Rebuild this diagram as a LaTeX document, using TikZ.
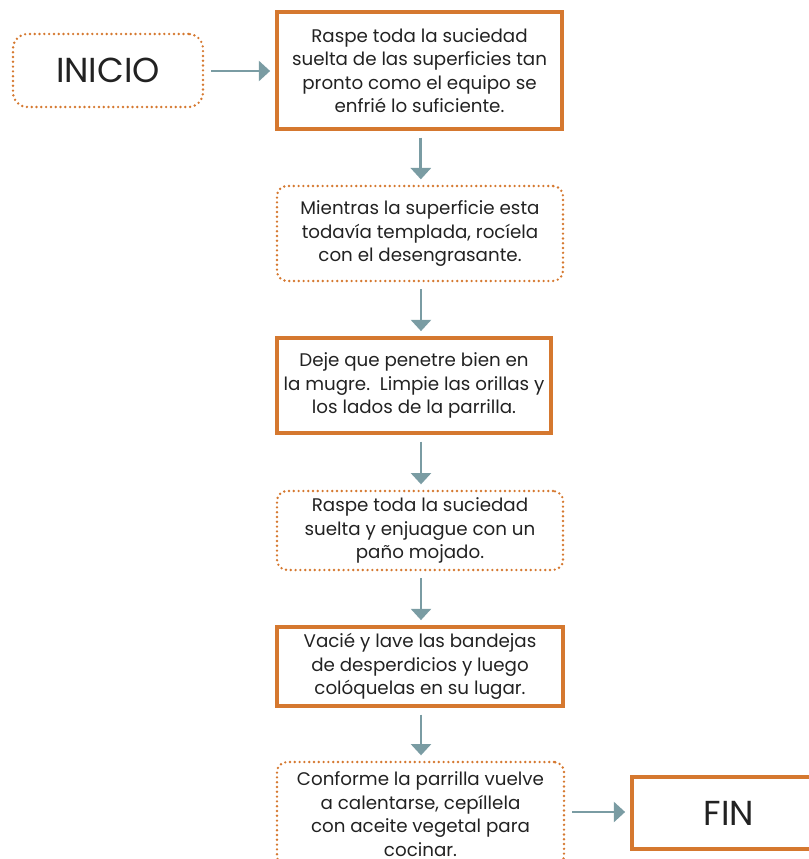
\documentclass[tikz,border=0pt]{standalone}
\usepackage{fontspec}
\setmainfont{Poppins}
\usetikzlibrary{arrows.meta}
\definecolor{boxorange}{HTML}{D5782F}
\definecolor{flowarrow}{HTML}{7A9CA3}
\definecolor{inktext}{HTML}{222222}
\begin{document}
\begin{tikzpicture}[x=0.75pt,y=-0.75pt,
  boxtext/.style={align=center, text=inktext, inner sep=0pt,
    font=\fontsize{13.7}{17.6}\selectfont},
  solidbox/.style={boxtext, draw=boxorange, line width=2.3pt, rectangle},
  dotbox/.style={boxtext, draw=boxorange, line width=2pt,
    dash pattern=on 0pt off 3.6pt, line cap=round, rounded corners=7.5pt},
  bigtext/.style={font=\fontsize{26}{30}\selectfont},
  flow/.style={draw=flowarrow, line width=2.2pt,
    -{Triangle[width=15pt,length=8.5pt]},
    shorten <=5.25pt, shorten >=4pt}
]
\useasboundingbox (0,0) rectangle (809,859);
\clip (0,0) rectangle (809,859);

% start and end terminals
\node[dotbox, bigtext, rounded corners=11pt, minimum width=142.5pt, minimum height=54.75pt]
  (inicio) at (108,70.5) {INICIO};
\node[solidbox, bigtext, minimum width=145.5pt, minimum height=54pt]
  (fin) at (729,813) {FIN};

% process steps
\node[solidbox, minimum width=213.75pt, minimum height=87.75pt] (s1) at (419.5,70.5)
  {Raspe toda la suciedad\\suelta de las superficies tan\\pronto como el equipo se\\enfrié lo suficiente.};
\node[dotbox, minimum width=214.5pt, minimum height=71.25pt] (s2) at (420,233.5)
  {Mientras la superficie esta\\todavía templada, rocíela\\con el desengrasante.};
\node[solidbox, minimum width=205.5pt, minimum height=71.25pt] (s3) at (414,385.5)
  {Deje que penetre bien en\\la mugre.\ \ Limpie las orillas y\\los lados de la parrilla.};
\node[dotbox, minimum width=214.5pt, minimum height=59.25pt] (s4) at (420,530.5)
  {Raspe toda la suciedad\\suelta y enjuague con un\\paño mojado.};
\node[solidbox, minimum width=214.5pt, minimum height=59.25pt] (s5) at (420,666.5)
  {Vacié y lave las bandejas\\de desperdicios y luego\\colóquelas en su lugar.};
\node[dotbox, minimum width=215.25pt, minimum height=78pt] (s6) at (420.5,814)
  {Conforme la parrilla vuelve\\a calentarse, cepíllela\\con aceite vegetal para\\cocinar.};

% connectors
\draw[flow] (inicio.east |- 0,71) -- (s1.west |- 0,71);
\draw[flow] ([xshift=1pt]s1.south) -- ([xshift=1pt]s1.south |- s2.north);
\draw[flow] ([xshift=0.75pt]s2.south) -- ([xshift=0.75pt]s2.south |- s3.north);
\draw[flow] ([xshift=0.75pt]s2.south |- s3.south) -- ([xshift=0.75pt]s2.south |- s4.north);
\draw[flow] ([xshift=0.75pt]s4.south) -- ([xshift=0.75pt]s4.south |- s5.north);
\draw[flow] ([xshift=0.75pt]s5.south) -- ([xshift=0.75pt]s5.south |- s6.north);
\draw[flow] (s6.east |- 0,812) -- (fin.west |- 0,812);
\end{tikzpicture}
\end{document}
